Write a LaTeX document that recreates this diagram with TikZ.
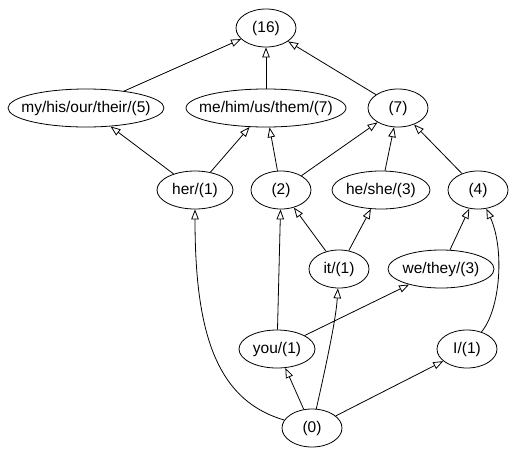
\documentclass[tikz,border=0pt]{standalone}
\usepackage{fontspec}
\setmainfont{Liberation Sans}
\usetikzlibrary{shapes.geometric,arrows.meta}
\newcommand\zw[1]{\makebox[0pt]{#1}}
\begin{document}
\begin{tikzpicture}[x=1pt,y=-1pt,
  nd/.style={ellipse,draw,line width=0.8pt,inner sep=0pt,minimum height=38pt,font=\fontsize{15.5}{18}\selectfont},
  arr/.style={line width=0.8pt,-{Triangle[open,length=10pt,width=7.5pt]}}]
\useasboundingbox (0,0) rectangle (509,448);
\node[nd,minimum width=60pt]  (n16)  at (266,28)  {\zw{(16)}};
\node[nd,minimum width=156pt] (mine) at (86,108)  {\zw{my/his/our/their/(5)}};
\node[nd,minimum width=160pt] (me)   at (266,108) {\zw{me/him/us/them/(7)}};
\node[nd,minimum width=60pt]  (n7)   at (398,108) {\zw{(7)}};
\node[nd,minimum width=76pt]  (her)  at (195,190) {\zw{her/(1)}};
\node[nd,minimum width=60pt]  (n2)   at (281,190) {\zw{(2)}};
\node[nd,minimum width=98pt]  (he)   at (381,190) {\zw{he/she/(3)}};
\node[nd,minimum width=60pt]  (n4)   at (478,190) {\zw{(4)}};
\node[nd,minimum width=60pt]  (it)   at (339,269) {\zw{it/(1)}};
\node[nd,minimum width=106pt] (we)   at (441,269) {\zw{we/they/(3)}};
\node[nd,minimum width=76pt]  (you)  at (277,349) {\zw{you/(1)}};
\node[nd,minimum width=60pt]  (I)    at (467,349) {\zw{I/(1)}};
\node[nd,minimum width=60pt]  (n0)   at (312,428) {\zw{(0)}};

\draw[arr] (mine) -- (n16);
\draw[arr] (me) -- (n16);
\draw[arr] (n7) -- (n16);
\draw[arr] (her) -- (mine);
\draw[arr] (her) -- (me);
\draw[arr] (n2) -- (me);
\draw[arr] (n2) -- (n7);
\draw[arr] (he) -- (n7);
\draw[arr] (n4) -- (n7);
\draw[arr] (it) -- (n2);
\draw[arr] (it) -- (he);
\draw[arr] (we) -- (n4);
\draw[arr] (you) -- (n2);
\draw[arr] (you) -- (we);
\draw[arr] (n0) -- (you);
\draw[arr] (n0) -- (I);
\draw[arr] (n0) .. controls (215,400) and (195,330) .. (her);
\draw[arr] (n0) .. controls (325,370) and (336,320) .. (it);
\draw[arr] (I) .. controls (500,310) and (505,250) .. (n4);
\end{tikzpicture}
\end{document}
